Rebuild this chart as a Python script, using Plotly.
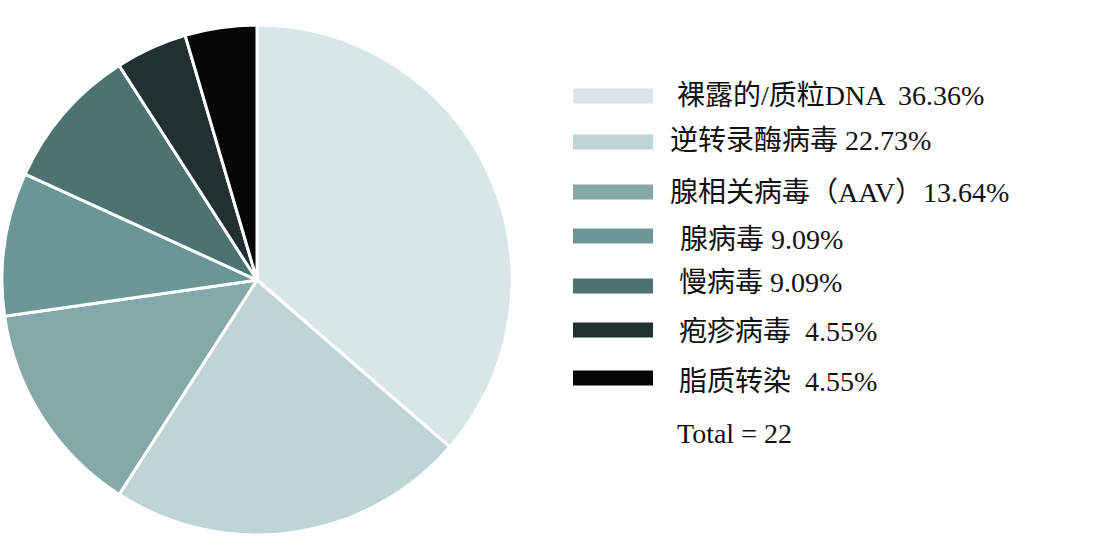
import plotly.graph_objects as go

# ---- data ----
categories = ["裸露的/质粒DNA", "逆转录酶病毒", "腺相关病毒（AAV）", "腺病毒", "慢病毒", "疱疹病毒", "脂质转染"]
counts = [8, 5, 3, 2, 2, 1, 1]
separators = ["  ", " ", "", " ", " ", "  ", "  "]
colors = ["#d8e7e6", "#bfd4d5", "#84a9a8", "#6a9795", "#4c7371", "#22302f", "#060606"]
total_label = "Total = 22"

# ---- layout constants (pixels) ----
W, H = 1101, 546
row_y = [95, 140, 192, 239, 282, 331, 381]      # legend row centres
text_x = [675, 668, 668, 678, 677, 677, 677]
total_y = 433
rect_x0, rect_x1, rect_h = 573, 653, 15
rect_y = [96, 142, 192, 236, 286, 330, 378]

def px(x):
    return x / W

def py(y):
    return 1 - y / H

total = sum(counts)
legend_texts = [f"{c}{s}{v / total * 100:.2f}%" for c, s, v in zip(categories, separators, counts)]

fig = go.Figure(go.Pie(
    labels=categories,
    values=counts,
    sort=False,
    direction="clockwise",
    rotation=0,
    marker=dict(colors=colors, line=dict(color="white", width=3)),
    textinfo="none",
    hoverinfo="label+percent",
    showlegend=False,
    domain=dict(x=[px(2), px(512)], y=[py(535), py(25)]),
))

font = dict(family="Liberation Serif, Times New Roman, Noto Sans CJK SC", size=28, color="#111111")

shapes = []
annotations = []
for i, (txt, col) in enumerate(zip(legend_texts, colors)):
    yc = row_y[i]
    ry = rect_y[i]
    shapes.append(dict(type="rect", xref="paper", yref="paper",
                       x0=px(rect_x0), x1=px(rect_x1),
                       y0=py(ry + rect_h / 2), y1=py(ry - rect_h / 2),
                       fillcolor=col, line=dict(width=0)))
    annotations.append(dict(xref="paper", yref="paper", x=px(text_x[i]), y=py(yc),
                            xanchor="left", yanchor="middle", text=txt,
                            showarrow=False, font=font))
annotations.append(dict(xref="paper", yref="paper", x=px(675), y=py(total_y),
                        xanchor="left", yanchor="middle", text=total_label,
                        showarrow=False, font=font))

fig.update_layout(
    width=W, height=H,
    margin=dict(l=0, r=0, t=0, b=0),
    paper_bgcolor="white",
    plot_bgcolor="white",
    shapes=shapes,
    annotations=annotations,
)

fig.write_html("out.html", config={"displayModeBar": False},
               post_script="document.body.style.margin='0';document.body.style.overflow='hidden';")
